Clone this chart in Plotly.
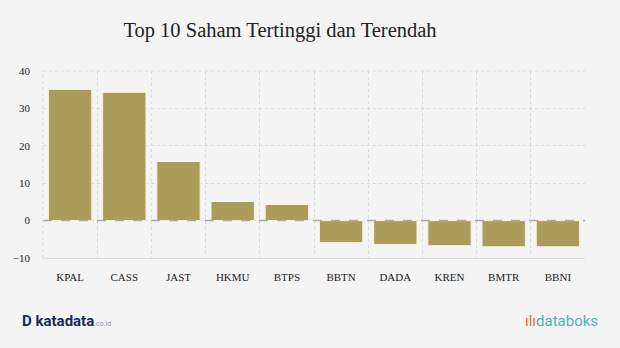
import plotly.graph_objects as go

categories = ["KPAL", "CASS", "JAST", "HKMU", "BTPS", "BBTN", "DADA", "KREN", "BMTR", "BBNI"]
values = [35.1, 34.3, 15.8, 5.1, 4.3, -5.9, -6.4, -6.7, -7.0, -7.0]
y_ticks = [-10, 0, 10, 20, 30, 40]

BG = "#f4f4f4"
BAR = "#ab9d59"
SERIF = "Liberation Serif, DejaVu Serif, serif"

fig = go.Figure()
fig.add_trace(go.Bar(
    x=categories, y=values,
    marker=dict(color=BAR, line=dict(color="#f7f3e6", width=1)),
    hoverinfo="x+y",
))

fig.update_layout(
    width=620, height=348,
    paper_bgcolor=BG, plot_bgcolor=BG,
    margin=dict(l=43, r=35, t=71, b=90),
    bargap=0.2,
    showlegend=False,
    title=dict(text="Top 10 Saham Tertinggi dan Terendah", x=280/620, xanchor="center",
               y=1 - 30/348, yanchor="middle",
               font=dict(family=SERIF, size=20.5, color="#222222")),
    font=dict(family=SERIF, size=11, color="#333333"),
)
fig.update_xaxes(
    showgrid=True, gridcolor="#d9d9d9", griddash="dot", gridwidth=1,
    tickson="boundaries", ticks="",
    showline=True, linecolor="#dddddd", linewidth=1, mirror=False,
    tickfont=dict(family=SERIF, size=11, color="#222222"),
    ticklabelstandoff=9,
)
fig.update_yaxes(
    range=[-10, 40], tickvals=y_ticks,
    showgrid=True, gridcolor="#d9d9d9", griddash="dot", gridwidth=1,
    zeroline=False,
    tickfont=dict(family=SERIF, size=11, color="#222222"),
    ticklabelstandoff=12,
)
# dashed zero line and dotted top/left borders
fig.add_shape(type="line", xref="paper", yref="y", x0=0, x1=1, y0=0, y1=0,
              line=dict(color="#a8a8a8", width=1.5, dash="dash"))
fig.add_shape(type="line", xref="paper", yref="paper", x0=0, x1=1, y0=1, y1=1,
              line=dict(color="#d9d9d9", width=1, dash="dot"))
fig.add_shape(type="line", xref="paper", yref="paper", x0=0, x1=0, y0=0, y1=1,
              line=dict(color="#d9d9d9", width=1, dash="dot"))

# logos as text
fig.add_annotation(xref="paper", yref="paper", x=(20-43)/542, y=-(321-258)/187,
                   xanchor="left", yanchor="middle", showarrow=False,
                   text="<b>D</b> <b>katadata</b><span style='font-size:7px;color:#8a94a6'>.co.id</span>",
                   font=dict(family="Roboto, sans-serif", size=15, color="#1b2a5c"))
fig.add_annotation(xref="paper", yref="paper", x=(600-43)/542, y=-(321-258)/187,
                   xanchor="right", yanchor="middle", showarrow=False,
                   text="<span style='color:#e8664a'>ılı</span>databoks",
                   font=dict(family="Roboto, sans-serif", size=15, color="#4fb3b0"))

fig.write_html("out.html")
